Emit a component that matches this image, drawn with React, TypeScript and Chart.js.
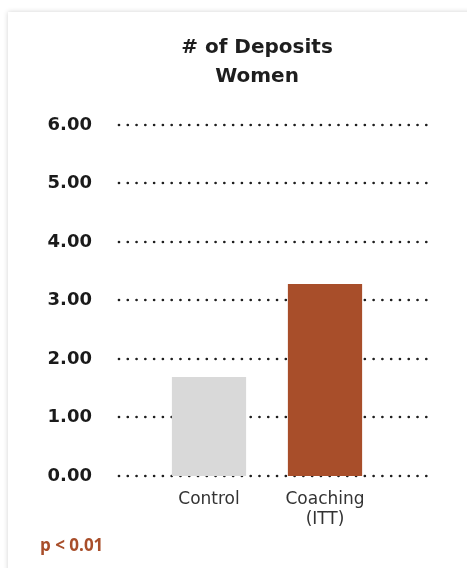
import React, { useEffect, useRef } from "react";
import { Chart, registerables } from "chart.js";

Chart.register(...registerables);

const categories: (string | string[])[] = ["Control", ["Coaching", "(ITT)"]];
const depositValues: number[] = [1.69, 3.28];
const barColors: string[] = ["#D9D9D9", "#A84E2A"];
const titleLines: string[] = ["# of Deposits", "Women"];
const yTickMin = 0;
const yTickMax = 6;
const yTickStep = 1;
const pValueText = "p < 0.01";

const FONT = "'DejaVu Sans', 'Noto Sans', sans-serif";

const dottedGrid = {
  id: "dottedGrid",
  beforeDatasetsDraw(chart: any) {
    const { ctx, chartArea, scales } = chart;
    const y = scales.y;
    ctx.save();
    ctx.setLineDash([0, 8.78]);
    ctx.lineCap = "round";
    ctx.lineWidth = 2.7;
    ctx.strokeStyle = "#1e1e1e";
    y.ticks.forEach((t: any) => {
      const py = Math.round(y.getPixelForValue(t.value));
      ctx.beginPath();
      ctx.moveTo(chartArea.left - 32, py);
      ctx.lineTo(chartArea.right + 44, py);
      ctx.stroke();
    });
    ctx.restore();
  },
};

export default function App() {
  const ref = useRef<HTMLCanvasElement | null>(null);

  useEffect(() => {
    if (!ref.current) return;
    const chart = new Chart(ref.current, {
      type: "bar",
      data: {
        labels: categories as any,
        datasets: [
          {
            data: depositValues,
            backgroundColor: barColors,
            borderWidth: 0,
            barPercentage: 0.8,
            categoryPercentage: 0.8,
          },
        ],
      },
      options: {
        responsive: false,
        animation: false,
        devicePixelRatio: 1,
        layout: { padding: { left: 0, right: 0, top: 0, bottom: 13 } },
        plugins: {
          legend: { display: false },
          tooltip: { enabled: false },
          title: {
            display: true,
            text: titleLines,
            color: "#1e1e1e",
            font: { family: FONT, size: 20, weight: "bold", lineHeight: 1.45 },
            padding: { top: 21, bottom: 34 },
          },
        },
        scales: {
          x: {
            grid: { display: false, drawTicks: false },
            border: { display: false },
            ticks: {
              color: "#333333",
              font: { family: FONT, size: 17, lineHeight: 1.18 },
              padding: 14,
              maxRotation: 0,
            },
          },
          y: {
            min: yTickMin,
            max: yTickMax,
            grid: { display: false, drawTicks: false },
            border: { display: false },
            afterFit(scale: any) {
              scale.width = 143;
            },
            ticks: {
              stepSize: yTickStep,
              color: "#1a1a1a",
              font: { family: FONT, size: 18, weight: "bold" },
              padding: 59,
              callback: (v: any) => Number(v).toFixed(2),
            },
          },
          yRight: {
            position: "right",
            min: yTickMin,
            max: yTickMax,
            grid: { display: false, drawTicks: false },
            border: { display: false },
            ticks: { display: false },
            afterFit(scale: any) {
              scale.width = 123;
            },
          },
        },
      },
      plugins: [dottedGrid],
    });
    return () => chart.destroy();
  }, []);

  return (
    <div
      style={{
        position: "fixed",
        left: 0,
        top: 0,
        width: 467,
        height: 568,
        overflow: "hidden",
        background: "#ffffff",
      }}
    >
      <div
        style={{
          position: "absolute",
          left: 8,
          top: 12,
          width: 520,
          height: 620,
          background: "#ffffff",
          boxShadow: "0 0 5px rgba(0,0,0,0.18)",
        }}
      >
        <canvas
          ref={ref}
          width={498}
          height={545}
          style={{ position: "absolute", left: 0, top: 0, width: 498, height: 545 }}
        />
        <div
          style={{
            position: "absolute",
            left: 32,
            top: 521,
            fontFamily: "'Open Sans', 'DejaVu Sans', sans-serif",
            fontWeight: "bold",
            fontSize: 17,
            lineHeight: "23px",
            color: "#A84E2A",
            whiteSpace: "nowrap",
          }}
        >
          {pValueText}
        </div>
      </div>
    </div>
  );
}
